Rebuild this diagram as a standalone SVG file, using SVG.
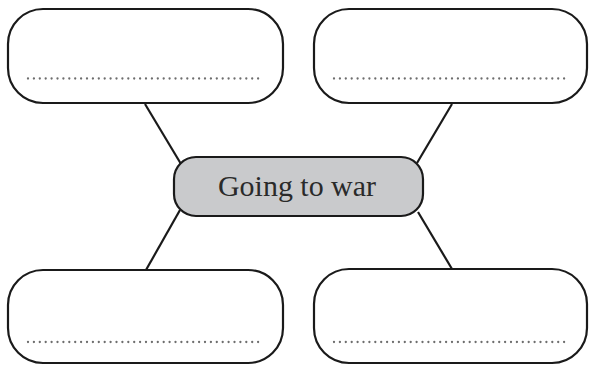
<svg xmlns="http://www.w3.org/2000/svg" width="589" height="365" viewBox="0 0 589 365">
<style>
.box{fill:#ffffff;stroke:#1a1a1a;stroke-width:2.2}
.dots{stroke:#6e6e6e;stroke-width:2.3;stroke-linecap:round;stroke-dasharray:0 5.9;fill:none}
.conn{stroke:#1a1a1a;stroke-width:2.2;fill:none}
.center{fill:#c9cacc;stroke:#1a1a1a;stroke-width:2.2}
.label{font-family:"Liberation Serif","Times New Roman",serif;font-size:29px;fill:#2a2a2a}
</style>
<rect width="589" height="365" fill="#ffffff"/>
<g id="connectors">
<line class="conn" x1="145" y1="104" x2="181" y2="164"/>
<line class="conn" x1="452" y1="104" x2="417" y2="163"/>
<line class="conn" x1="180" y1="210" x2="146" y2="270"/>
<line class="conn" x1="418" y1="212" x2="452" y2="269"/>
</g>
<g id="node-top-left">
<rect class="box" x="8" y="9" width="275" height="94" rx="35" ry="35"/>
<line class="dots" x1="28" y1="78.5" x2="263" y2="78.5"/>
</g>
<g id="node-top-right">
<rect class="box" x="314" y="9" width="273" height="94" rx="35" ry="35"/>
<line class="dots" x1="334" y1="78.5" x2="568" y2="78.5"/>
</g>
<g id="node-bottom-left">
<rect class="box" x="8" y="270" width="275" height="93" rx="35" ry="35"/>
<line class="dots" x1="28" y1="342" x2="263" y2="342"/>
</g>
<g id="node-bottom-right">
<rect class="box" x="314" y="269" width="273" height="94" rx="35" ry="35"/>
<line class="dots" x1="334" y1="342" x2="568" y2="342"/>
</g>
<g id="node-center">
<rect class="center" x="174" y="157" width="249" height="59" rx="22" ry="22"/>
<text class="label" x="297" y="196" text-anchor="middle" textLength="158" lengthAdjust="spacingAndGlyphs">Going to war</text>
</g>
</svg>
